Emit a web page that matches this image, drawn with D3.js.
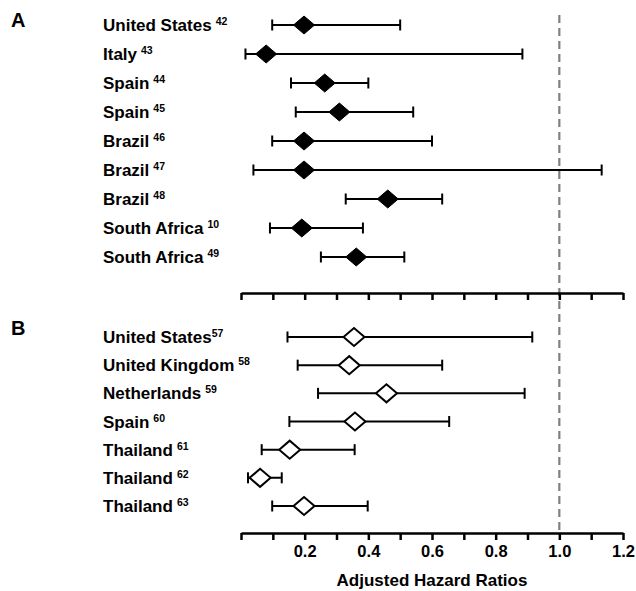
<!DOCTYPE html>
<html lang="en">
<head>
    <meta charset="UTF-8">
    <title>Adjusted Hazard Ratios</title>
    <script src="https://cdn.jsdelivr.net/npm/d3@7"></script>
    <style>
        body { margin: 0; background: #fff; }
        text { font-family: Arial, "Liberation Sans", sans-serif; font-weight: bold; fill: #000; }
    </style>
</head>
<body>
<svg width="636" height="591"></svg>

<script>

    // panel A (filled diamonds)
    var countriesA = ["United States", "Italy", "Spain", "Spain", "Brazil", "Brazil", "Brazil", "South Africa", "South Africa"];
    var refsA = ["42", "43", "44", "45", "46", "47", "48", "10", "49"];
    var hrA = [0.198, 0.079, 0.263, 0.309, 0.198, 0.198, 0.461, 0.191, 0.362];
    var lowA = [0.098, 0.014, 0.157, 0.172, 0.098, 0.039, 0.329, 0.091, 0.251];
    var highA = [0.500, 0.884, 0.400, 0.541, 0.600, 1.133, 0.632, 0.383, 0.513];

    // panel B (open diamonds)
    var countriesB = ["United States", "United Kingdom", "Netherlands", "Spain", "Thailand", "Thailand", "Thailand"];
    var refsB = ["57", "58", "59", "60", "61", "62", "63"];
    var gapB = [false, true, true, true, true, true, true];
    var hrB = [0.355, 0.340, 0.457, 0.358, 0.153, 0.060, 0.198];
    var lowB = [0.146, 0.178, 0.242, 0.152, 0.065, 0.022, 0.098];
    var highB = [0.915, 0.632, 0.891, 0.654, 0.357, 0.128, 0.398];

    var tickVals = [0, 0.1, 0.2, 0.3, 0.4, 0.5, 0.6, 0.7, 0.8, 0.9, 1.0, 1.1, 1.2];
    var labelTicks = [0.2, 0.4, 0.6, 0.8, 1.0, 1.2];

    var svg = d3.select("svg");

    var x = d3.scaleLinear().domain([0, 1.2]).range([241, 623]);

    function rows(countries, refs, hr, low, high, gap) {
        return countries.map(function (c, i) {
            return {name: c, ref: refs[i], hr: hr[i], lo: low[i], hi: high[i], gap: gap ? gap[i] : true, i: i};
        });
    }

    var dataA = rows(countriesA, refsA, hrA, lowA, highA, null);
    var dataB = rows(countriesB, refsB, hrB, lowB, highB, gapB);

    var yA = d3.scalePoint().domain(d3.range(dataA.length)).range([25, 257]);
    var yB = d3.scalePoint().domain(d3.range(dataB.length)).range([337, 506]);

    // reference line at HR = 1
    svg.append("line")
        .attr("x1", x(1)).attr("x2", x(1))
        .attr("y1", 15).attr("y2", 533)
        .style("stroke", "#808080")
        .style("stroke-width", 2.2)
        .style("stroke-dasharray", "8,5");

    function drawPanel(data, y, filled, axisY, letter, letterY, showLabels) {
        var g = svg.append("g");

        g.append("text")
            .attr("x", 11).attr("y", letterY)
            .style("font-size", "20px")
            .text(letter);

        var lab = g.selectAll(".lab")
            .data(data)
            .enter().append("text")
            .attr("class", "lab")
            .attr("x", 103)
            .attr("y", function (d) { return y(d.i) + 6; })
            .style("font-size", "17px");
        lab.append("tspan").text(function (d) { return d.name; });
        lab.append("tspan")
            .attr("dx", function (d) { return d.gap ? 4 : 0; })
            .attr("dy", -6)
            .style("font-size", "10.5px")
            .text(function (d) { return d.ref; });

        var row = g.selectAll(".row")
            .data(data)
            .enter().append("g")
            .attr("class", "row");

        row.append("line")
            .attr("x1", function (d) { return x(d.lo); })
            .attr("x2", function (d) { return x(d.hi); })
            .attr("y1", function (d) { return y(d.i); })
            .attr("y2", function (d) { return y(d.i); })
            .style("stroke", "#000").style("stroke-width", 2);

        ["lo", "hi"].forEach(function (k) {
            row.append("line")
                .attr("x1", function (d) { return x(d[k]); })
                .attr("x2", function (d) { return x(d[k]); })
                .attr("y1", function (d) { return y(d.i) - 5.5; })
                .attr("y2", function (d) { return y(d.i) + 5.5; })
                .style("stroke", "#000").style("stroke-width", 2);
        });

        row.append("path")
            .attr("d", function (d) {
                var cx = x(d.hr), cy = y(d.i);
                return "M" + (cx - 10.5) + "," + cy + "L" + cx + "," + (cy - 9) +
                    "L" + (cx + 10.5) + "," + cy + "L" + cx + "," + (cy + 9) + "Z";
            })
            .style("fill", filled ? "#000" : "#fff")
            .style("stroke", "#000")
            .style("stroke-width", filled ? 1 : 2);

        var axis = d3.axisBottom(x)
            .tickValues(tickVals)
            .tickSize(7)
            .tickSizeOuter(0)
            .tickFormat(function (v) {
                if (!showLabels) return "";
                return labelTicks.some(function (t) { return Math.abs(t - v) < 1e-6; }) ? d3.format(".1f")(v) : "";
            });

        var ax = g.append("g")
            .attr("transform", "translate(0," + axisY + ")")
            .call(axis);
        ax.select(".domain").style("stroke", "#000").style("stroke-width", 2.5);
        ax.selectAll(".tick line").style("stroke", "#000").style("stroke-width", 2.5);
        ax.selectAll(".tick text")
            .attr("y", 12)
            .style("font-size", "16.5px")
            .style("font-family", "Arial, 'Liberation Sans', sans-serif")
            .style("font-weight", "bold")
            .style("fill", "#000");
    }

    drawPanel(dataA, yA, true, 293, "A", 27, false);
    drawPanel(dataB, yB, false, 533, "B", 335, true);

    svg.append("text")
        .attr("x", x(0.6))
        .attr("y", 586)
        .attr("text-anchor", "middle")
        .style("font-size", "17px")
        .text("Adjusted Hazard Ratios");

</script>

</body>
</html>
